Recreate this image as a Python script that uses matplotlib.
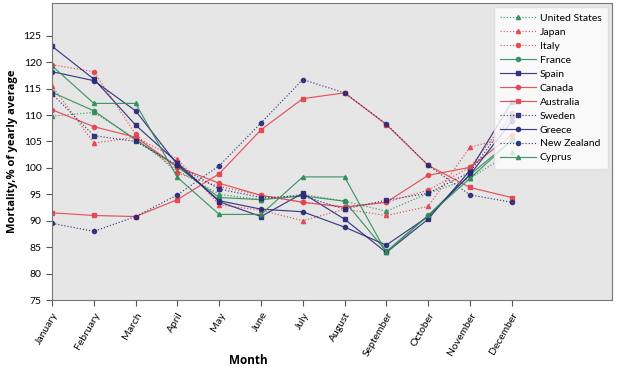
import matplotlib
matplotlib.use("Agg")
import matplotlib.pyplot as plt

months = ['January', 'February', 'March', 'April', 'May', 'June', 'July',
          'August', 'September', 'October', 'November', 'December']

united_states = [109.8, 110.5, 105.5, 99.5, 95.0, 94.0, 95.0, 93.7, 91.8, 95.2, 98.0, 103.0]
japan = [115.5, 104.7, 105.8, 101.7, 93.0, 92.0, 90.0, 92.2, 91.0, 92.7, 103.9, 106.0]
italy = [119.5, 118.2, 106.4, 99.0, 96.5, 94.8, 93.5, 92.6, 93.5, 95.8, 100.1, 110.3]
france = [114.3, 110.8, 105.3, 100.2, 94.4, 94.0, 94.7, 93.7, 84.2, 91.0, 98.7, 105.2]
spain = [123.0, 116.8, 108.1, 101.0, 93.6, 90.8, 95.2, 90.3, 84.0, 90.3, 99.5, 112.4]
canada = [111.0, 107.8, 105.8, 100.2, 97.1, 94.8, 93.5, 92.6, 93.5, 98.6, 100.1, 106.2]
australia = [91.5, 91.0, 90.8, 94.0, 98.9, 107.2, 113.1, 114.2, 108.2, 100.5, 96.3, 94.4]
sweden = [114.0, 106.1, 105.0, 100.5, 96.0, 94.4, 94.7, 92.2, 93.9, 95.2, 99.2, 109.8]
greece = [118.2, 116.5, 110.8, 100.6, 93.8, 92.2, 91.7, 88.8, 85.4, 90.8, 98.7, 108.8]
new_zealand = [89.5, 88.0, 90.8, 94.9, 100.4, 108.5, 116.7, 114.2, 108.3, 100.5, 94.9, 93.5]
cyprus = [119.3, 112.2, 112.2, 98.2, 91.2, 91.2, 98.3, 98.3, 84.0, 91.0, 98.0, 105.2]

green = '#2f8f5b'
red = '#e5424d'
navy = '#2a2a78'

series = [
    ('United States', united_states, green, ':', '^'),
    ('Japan', japan, red, ':', '^'),
    ('Italy', italy, red, ':', 'o'),
    ('France', france, green, '-', 'o'),
    ('Spain', spain, navy, '-', 's'),
    ('Canada', canada, red, '-', 'o'),
    ('Australia', australia, red, '-', 's'),
    ('Sweden', sweden, navy, ':', 's'),
    ('Greece', greece, navy, '-', 'o'),
    ('New Zealand', new_zealand, navy, ':', 'o'),
    ('Cyprus', cyprus, green, '-', '^'),
]

plt.rcParams['font.family'] = ['Lato', 'DejaVu Sans']

fig = plt.figure(figsize=(6.2, 3.7), dpi=100)
ax = fig.add_axes([0.084, 0.189, 0.903, 0.803])
ax.set_facecolor('#e6e6e6')

x = list(range(len(months)))
for name, vals, col, ls, mk in series:
    ax.plot(x, vals, color=col, linestyle=ls, linewidth=0.85, marker=mk,
            markersize=3, label=name, alpha=0.9)

ax.set_xlim(0, 13.4)
ax.set_ylim(75, 131.2)
ax.set_yticks(range(75, 130, 5))
ax.set_xticks(x)
ax.set_xticklabels(months, rotation=60, ha='right', rotation_mode='anchor')
ax.tick_params(axis='y', labelsize=7.5, color='#555555', length=4)
ax.tick_params(axis='x', labelsize=7.5, color='#555555', length=4)
for s in ax.spines.values():
    s.set_color('#777777')
    s.set_linewidth(0.8)

ax.set_xlabel('Month', fontsize=8.5, fontweight='bold', family='Open Sans')
ax.xaxis.set_label_coords(0.35, -0.18)
ax.set_ylabel('Mortality,% of yearly average', fontsize=8, fontweight='bold',
              family='Open Sans')

leg = ax.legend(loc='upper right', fontsize=7.5, frameon=True, fancybox=False,
                handlelength=3.4, labelspacing=0.45, borderaxespad=0.4,
                borderpad=0.6, handletextpad=0.4)
leg.get_frame().set_facecolor('white')
leg.get_frame().set_edgecolor('#dddddd')

fig.savefig('out.png', dpi=100)
